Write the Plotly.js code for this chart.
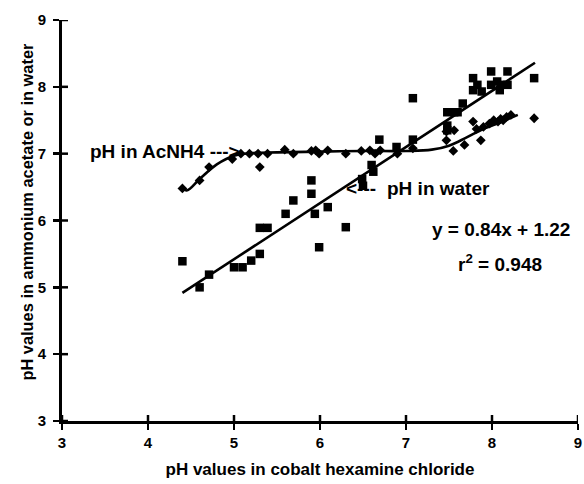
<!DOCTYPE html>
<html>
<head>
<meta charset="utf-8">
<script src="https://cdn.plot.ly/plotly-3.0.1.min.js"></script>
<style>html,body{margin:0;padding:0;background:#fff;}#chart{width:584px;height:484px;}</style>
</head>
<body>
<div id="chart"></div>
<script>
// pH in water vs cobalt hexamine chloride (squares)
const waterX = [4.4, 4.6, 4.71, 5.0, 5.1, 5.2, 5.3, 5.3, 5.39, 5.6, 5.69, 5.9, 5.9, 5.94, 5.99, 6.09, 6.3,
                6.49, 6.5, 6.6, 6.62, 6.69, 6.89, 7.08, 7.08, 7.48, 7.48, 7.48, 7.56, 7.6, 7.66,
                7.78, 7.78, 7.83, 7.88, 7.99, 7.99, 8.06, 8.09, 8.1, 8.18, 8.18, 8.49];
const waterY = [5.39, 5.0, 5.19, 5.3, 5.3, 5.4, 5.5, 5.89, 5.89, 6.1, 6.3, 6.6, 6.4, 6.1, 5.6, 6.2, 5.9,
                6.62, 6.52, 6.83, 6.73, 7.21, 7.1, 7.21, 7.83, 7.35, 7.42, 7.62, 7.62, 7.62, 7.75,
                8.13, 7.95, 8.03, 7.93, 8.23, 8.03, 8.08, 7.95, 8.03, 8.23, 8.03, 8.13];

// pH in ammonium acetate vs cobalt hexamine chloride (diamonds)
const acX = [4.4, 4.6, 4.71, 4.98, 5.08, 5.18, 5.28, 5.39, 5.3, 5.59, 5.69, 5.9, 5.95, 5.99, 6.09, 6.3,
             6.48, 6.58, 6.64, 6.7, 6.9, 7.08, 7.47, 7.55, 7.56, 7.68, 7.78, 7.82, 7.87, 7.9, 7.97,
             8.02, 8.07, 8.1, 8.13, 8.17, 8.22, 8.49, 7.47];
const acY = [6.48, 6.6, 6.8, 6.92, 7.0, 7.0, 7.0, 7.0, 6.8, 7.06, 7.0, 7.04, 7.05, 7.0, 7.05, 7.0,
             7.04, 7.05, 7.0, 7.05, 7.0, 7.08, 7.2, 7.04, 7.35, 7.13, 7.48, 7.37, 7.2, 7.4, 7.45,
             7.5, 7.48, 7.52, 7.5, 7.55, 7.58, 7.53, 7.33];

// smoothed AcNH4 curve
const curveX = [4.4, 4.45, 4.6, 4.8, 5.0, 5.2, 5.5, 6.0, 6.5, 7.0, 7.3, 7.5, 7.7, 7.9, 8.1, 8.3];
const curveY = [6.5, 6.45, 6.62, 6.84, 6.97, 7.01, 7.02, 7.03, 7.04, 7.04, 7.06, 7.12, 7.24, 7.37, 7.47, 7.58];

// linear regression of pH in water: y = 0.84x + 1.22
const fitSlope = 0.84;
const fitIntercept = 1.22;
const fitX = [4.4, 8.5];
const fitY = fitX.map(x => fitSlope * x + fitIntercept);

const axisTicks = [3, 4, 5, 6, 7, 8, 9];

const FONT = 'Liberation Sans, Arial, Helvetica, sans-serif';

const traces = [
  {x: fitX, y: fitY, mode: 'lines', line: {color: '#000', width: 2.6}, hoverinfo: 'skip'},
  {x: curveX, y: curveY, mode: 'lines', line: {color: '#000', width: 2.6, shape: 'spline', smoothing: 1}, hoverinfo: 'skip'},
  {x: waterX, y: waterY, mode: 'markers', marker: {symbol: 'square', size: 8.5, color: '#000'}},
  {x: acX, y: acY, mode: 'markers', marker: {symbol: 'diamond', size: 7.5, color: '#000'}}
];

const baseAxis = {
  range: [3, 9], tickvals: axisTicks, showgrid: false, zeroline: false,
  showline: true, linecolor: '#000', linewidth: 3,
  ticks: 'outside', ticklen: 6, tickwidth: 2.5, tickcolor: '#000',
  tickfont: {family: FONT, size: 15, color: '#000', weight: 700}
};

// inner halves of the crossing tick marks
const tickShapes = [];
axisTicks.forEach(v => {
  tickShapes.push({type: 'line', xref: 'x', yref: 'y', ysizemode: 'pixel', yanchor: 3,
                   x0: v, x1: v, y0: 0, y1: 6, line: {color: '#000', width: 2.5}});
  tickShapes.push({type: 'line', xref: 'x', yref: 'y', xsizemode: 'pixel', xanchor: 3,
                   y0: v, y1: v, x0: 0, x1: 6, line: {color: '#000', width: 2.5}});
});

const layout = {
  width: 584, height: 484,
  margin: {l: 62, r: 6, t: 20, b: 63},
  paper_bgcolor: '#fff', plot_bgcolor: '#fff',
  showlegend: false,
  xaxis: Object.assign({}, baseAxis, {
    title: {text: 'pH values in cobalt hexamine chloride', font: {family: FONT, size: 17, color: '#000', weight: 700}, standoff: 14}
  }),
  yaxis: Object.assign({}, baseAxis, {ticklabelstandoff: 4}),
  shapes: tickShapes,
  annotations: [
    {x: -0.068, y: 0.522, xref: 'paper', yref: 'paper', xanchor: 'center', yanchor: 'middle', showarrow: false,
     textangle: -90, text: 'pH values in ammonium acetate or in water',
     font: {family: FONT, size: 16.4, color: '#000', weight: 700}},
    {x: 3.3, y: 7.03, xref: 'x', yref: 'y', xanchor: 'left', yanchor: 'middle', showarrow: false,
     text: 'pH in AcNH4 --->', font: {family: FONT, size: 19, color: '#000', weight: 700}},
    {x: 6.28, y: 6.48, xref: 'x', yref: 'y', xanchor: 'left', yanchor: 'middle', showarrow: false,
     text: '<---', font: {family: FONT, size: 19, color: '#000', weight: 700}},
    {x: 6.75, y: 6.48, xref: 'x', yref: 'y', xanchor: 'left', yanchor: 'middle', showarrow: false,
     text: 'pH in water', font: {family: FONT, size: 19, color: '#000', weight: 700}},
    {x: 8.1, y: 5.86, xref: 'x', yref: 'y', xanchor: 'center', yanchor: 'middle', showarrow: false,
     text: 'y = 0.84x + 1.22', font: {family: FONT, size: 19, color: '#000', weight: 700}},
    {x: 8.09, y: 5.37, xref: 'x', yref: 'y', xanchor: 'center', yanchor: 'middle', showarrow: false,
     text: 'r<sup>2</sup> = 0.948', font: {family: FONT, size: 19, color: '#000', weight: 700}}
  ]
};

Plotly.newPlot('chart', traces, layout, {displayModeBar: false, staticPlot: true});
</script>
</body>
</html>
